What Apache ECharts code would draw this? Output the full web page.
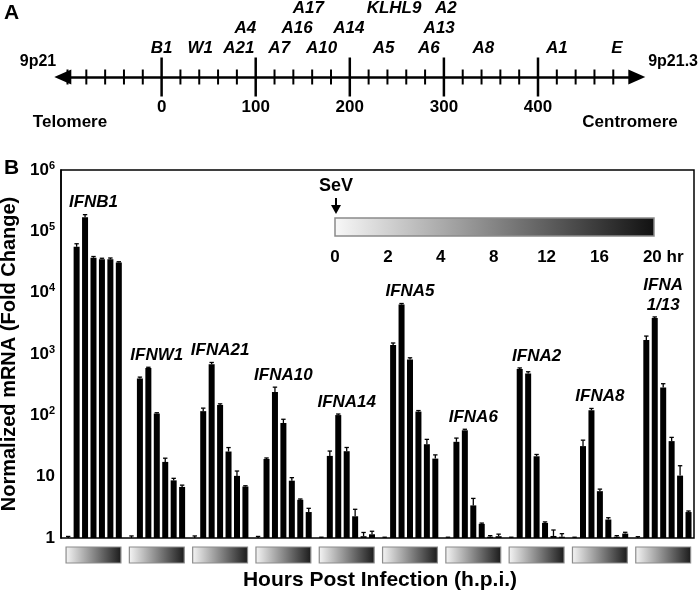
<!DOCTYPE html>
<html><head><meta charset="utf-8">
<script src="https://cdn.jsdelivr.net/npm/echarts@6/dist/echarts.min.js"></script>
<style>html,body{margin:0;padding:0;background:#fff}#c{width:700px;height:595px}</style>
</head><body><div id="c"></div>
<script>
const FONT = '"Liberation Sans", Arial, Helvetica, sans-serif';

// ---------- Panel A: gene map along 9p21 (kb) ----------
const mapGenes = ['B1','W1','A21','A7','A10','A5','A6','A8','A1','E','A4','A16','A14','A13','A17','KLHL9','A2'];
const mapPos   = [0, 41, 82, 125, 170, 236, 284, 342, 420, 484, 89, 144, 199, 295, 156, 247, 302];
const mapRow   = [0, 0, 0, 0, 0, 0, 0, 0, 0, 0, 1, 1, 1, 1, 2, 2, 2];
const mapMinorTicks = [-100,-80,-60,-40,-20,20,40,60,80,120,140,160,180,220,240,260,280,320,340,360,380,420,440,460,480];
const mapMajorTicks = [0, 100, 200, 300, 400];

// ---------- Panel B: fold change per time point ----------
const hours = ['0', '2', '4', '8', '12', '16', '20 hr'];
const genes = ['IFNB1','IFNW1','IFNA21','IFNA10','IFNA14','IFNA5','IFNA6','IFNA2','IFNA8','IFNA\n1/13'];
const IFNB1   = [1, 56000, 170000, 37000, 35000, 35000, 31000];
const IFNW1   = [1, 400, 590, 107, 17.4, 8.7, 6.8];
const IFNA21  = [1, 117, 680, 148, 25.7, 10.3, 6.9];
const IFNA10  = [1, 19.4, 240, 75, 8.6, 4.2, 2.65];
const IFNA14  = [1, 21.8, 101, 26, 2.26, 1.07, 1.15];
const IFNA5   = [1, 1400, 6400, 810, 115, 33.8, 19.7];
const IFNA6   = [1, 37, 57, 3.4, 1.7, 1.05, 1.07];
const IFNA2   = [1, 570, 480, 21.5, 1.76, 1.08, 1.05];
const IFNA8   = [1, 31.5, 121, 5.8, 2.0, 1.05, 1.18];
const IFNA1_13 = [1, 1690, 3870, 285, 38, 10.4, 2.65];
// relative upper error (fraction of value)
const errIFNB1   = [0.06, 0.12, 0.10, 0.05, 0.04, 0.05, 0.03];
const errIFNW1   = [0.08, 0.05, 0.03, 0.03, 0.15, 0.08, 0.07];
const errIFNA21  = [0.08, 0.12, 0.07, 0.04, 0.16, 0.20, 0.03];
const errIFNA10  = [0.06, 0.04, 0.20, 0.15, 0.12, 0.03, 0.15];
const errIFNA14  = [0.03, 0.20, 0.04, 0.15, 0.30, 0.15, 0.12];
const errIFNA5   = [0.03, 0.08, 0.04, 0.07, 0.04, 0.20, 0.15];
const errIFNA6   = [0.03, 0.15, 0.04, 0.30, 0.03, 0.04, 0.08];
const errIFNA2   = [0.03, 0.04, 0.07, 0.07, 0.04, 0.25, 0.12];
const errIFNA8   = [0.03, 0.25, 0.07, 0.08, 0.07, 0.04, 0.05];
const errIFNA1_13 = [0.05, 0.16, 0.04, 0.15, 0.15, 0.45, 0.04];

const values = [IFNB1, IFNW1, IFNA21, IFNA10, IFNA14, IFNA5, IFNA6, IFNA2, IFNA8, IFNA1_13];
const errors = [errIFNB1, errIFNW1, errIFNA21, errIFNA10, errIFNA14, errIFNA5, errIFNA6, errIFNA2, errIFNA8, errIFNA1_13];

// layout of groups on the hidden x scale (slots)
const GROUP = 7.5, OFF = 0.85;
const barData = [], errData = [], labelData = [], boxData = [];
values.forEach((arr, g) => {
  let top = 1;
  arr.forEach((v, i) => {
    const x = g * GROUP + OFF + i;
    const hi = v * (1 + errors[g][i]);
    barData.push([x, v]);
    errData.push([x, v, hi]);
    top = Math.max(top, hi);
  });
  labelData.push([g * GROUP + OFF + 3, top, g]);
  boxData.push([g]);
});

const chart = echarts.init(document.getElementById('c'), null, { renderer: 'canvas' });

const grad = (a, b) => new echarts.graphic.LinearGradient(0, 0, 1, 0, [{ offset: 0, color: a }, { offset: 1, color: b }]);

const legendX0 = 335, legendStep = 52.9;
const legendGraphics = hours.map((h, i) => ({
  type: 'text',
  x: i < hours.length - 1 ? legendX0 + i * legendStep : legendX0 + i * legendStep - 9.5,
  y: 257,
  style: { text: h, font: 'bold 17px ' + FONT, align: i < hours.length - 1 ? 'center' : 'left', verticalAlign: 'middle', fill: '#000' }
}));

chart.setOption({
  animation: false,
  backgroundColor: '#fff',
  grid: [
    { left: 62.8, right: 63.2, top: 0, height: 77, outerBoundsMode: 'none', containLabel: false },
    { left: 61, right: 6, top: 170, bottom: 57, outerBoundsMode: 'none', containLabel: false, show: true, borderColor: '#000', borderWidth: 1.5, backgroundColor: 'transparent' }
  ],
  xAxis: [
    {
      gridIndex: 0, type: 'value', min: -105, max: 505, position: 'bottom',
      axisLine: { show: true, onZero: false, lineStyle: { color: '#000', width: 2.5 }, symbol: ['triangle', 'triangle'], symbolSize: [15, 17] },
      axisTick: { show: false },
      splitLine: { show: false },
      axisLabel: { show: true, customValues: mapMajorTicks, margin: 22, fontSize: 17, fontWeight: 'bold', fontFamily: FONT, color: '#000' }
    },
    { gridIndex: 1, type: 'value', min: 0, max: 75, show: false, splitLine: { show: false } }
  ],
  yAxis: [
    { gridIndex: 0, type: 'value', min: -1.45, max: 2.4, show: false, splitLine: { show: false } },
    {
      gridIndex: 1, type: 'log', logBase: 10, min: 1, max: 1000000,
      axisLine: { show: true, lineStyle: { color: '#000', width: 1.5 } },
      axisTick: { show: false },
      splitLine: { show: false },
      minorTick: { show: false },
      name: 'Normalized mRNA (Fold Change)',
      nameLocation: 'middle', nameGap: 31,
      nameTextStyle: { fontSize: 20, fontWeight: 'bold', fontFamily: FONT, color: '#000' },
      axisLabel: {
        margin: 6, fontSize: 17, fontWeight: 'bold', fontFamily: FONT, color: '#000',
        formatter: v => {
          const e = Math.round(Math.log10(v));
          if (e === 0) return '1';
          if (e === 1) return '10';
          return '10{s|' + e + '}';
        },
        rich: { s: { fontSize: 11, fontWeight: 'bold', fontFamily: FONT, color: '#000', verticalAlign: 'top', padding: [0, 0, 9, 0] } }
      }
    }
  ],
  series: [
    {
      type: 'custom', xAxisIndex: 0, yAxisIndex: 0, clip: false, silent: true,
      data: mapMinorTicks.map(v => [v, 0]).concat(mapMajorTicks.map(v => [v, 1])),
      renderItem: (params, api) => {
        const p = api.coord([api.value(0), -1.45]);
        const major = api.value(1) === 1;
        const len = major ? 19.5 : 7.5;
        return { type: 'line', shape: { x1: p[0], y1: p[1] - len, x2: p[0], y2: p[1] + len }, style: { stroke: '#000', lineWidth: major ? 2.5 : 2 } };
      }
    },
    {
      type: 'custom', xAxisIndex: 0, yAxisIndex: 0, clip: false, silent: true,
      data: mapPos.map((p, i) => [p, mapRow[i], i]),
      renderItem: (params, api) => {
        const p = api.coord([api.value(0), api.value(1)]);
        return { type: 'text', x: p[0], y: p[1], style: { text: mapGenes[api.value(2)], font: 'italic bold 17px ' + FONT, fill: '#000', align: 'center', verticalAlign: 'middle' } };
      }
    },
    {
      type: 'bar', xAxisIndex: 1, yAxisIndex: 1, barWidth: 6, data: barData,
      itemStyle: { color: '#000' }, silent: true
    },
    {
      type: 'custom', xAxisIndex: 1, yAxisIndex: 1, clip: false, silent: true, data: errData,
      renderItem: (params, api) => {
        const x = api.value(0);
        const p0 = api.coord([x, api.value(1)]);
        const p1 = api.coord([x, api.value(2)]);
        return { type: 'group', children: [
          { type: 'line', shape: { x1: p0[0], y1: p0[1], x2: p1[0], y2: p1[1] }, style: { stroke: '#000', lineWidth: 1.3 } },
          { type: 'line', shape: { x1: p1[0] - 2.2, y1: p1[1], x2: p1[0] + 2.2, y2: p1[1] }, style: { stroke: '#000', lineWidth: 1.3 } }
        ] };
      }
    },
    {
      type: 'custom', xAxisIndex: 1, yAxisIndex: 1, clip: false, silent: true, data: boxData,
      renderItem: (params, api) => {
        const g = api.value(0);
        const a = api.coord([g * GROUP + 0.6, 1]);
        const b = api.coord([g * GROUP + 7.1, 1]);
        return { type: 'rect', shape: { x: a[0], y: a[1] + 9, width: b[0] - a[0], height: 16 },
          style: { fill: grad('#f6f6f6', '#1a1a1a'), stroke: '#8c8c8c', lineWidth: 1.2 } };
      }
    },
    {
      type: 'custom', xAxisIndex: 1, yAxisIndex: 1, clip: false, silent: true, data: labelData,
      renderItem: (params, api) => {
        const p = api.coord([api.value(0), api.value(1)]);
        return { type: 'text', x: p[0], y: p[1] - 2, style: { text: genes[api.value(2)], font: 'italic bold 17px ' + FONT, lineHeight: 20, fill: '#000', align: 'center', verticalAlign: 'bottom' } };
      }
    }
  ],
  graphic: [
    { type: 'text', x: 4, y: 13, style: { text: 'A', font: 'bold 21px ' + FONT, fill: '#000', verticalAlign: 'middle' } },
    { type: 'text', x: 38, y: 62, style: { text: '9p21', font: 'bold 16px ' + FONT, fill: '#000', align: 'center', verticalAlign: 'middle' } },
    { type: 'text', x: 698, y: 62, style: { text: '9p21.3', font: 'bold 16px ' + FONT, fill: '#000', align: 'right', verticalAlign: 'middle' } },
    { type: 'text', x: 70, y: 122, style: { text: 'Telomere', font: 'bold 17px ' + FONT, fill: '#000', align: 'center', verticalAlign: 'middle' } },
    { type: 'text', x: 630, y: 122, style: { text: 'Centromere', font: 'bold 17px ' + FONT, fill: '#000', align: 'center', verticalAlign: 'middle' } },
    { type: 'text', x: 4, y: 168, style: { text: 'B', font: 'bold 21px ' + FONT, fill: '#000', verticalAlign: 'middle' } },
    { type: 'text', x: 380, y: 580, style: { text: 'Hours Post Infection (h.p.i.)', font: 'bold 21px ' + FONT, fill: '#000', align: 'center', verticalAlign: 'middle' } },
    { type: 'text', x: 336, y: 186, style: { text: 'SeV', font: 'bold 18px ' + FONT, fill: '#000', align: 'center', verticalAlign: 'middle' } },
    { type: 'line', shape: { x1: 336, y1: 198, x2: 336, y2: 208 }, style: { stroke: '#000', lineWidth: 2 } },
    { type: 'polygon', shape: { points: [[331, 205], [341, 205], [336, 214]] }, style: { fill: '#000' } },
    { type: 'rect', shape: { x: 335, y: 218, width: 319, height: 18 }, style: { fill: grad('#f8f8f8', '#111111'), stroke: '#8a8a8a', lineWidth: 1.5 } }
  ].concat(legendGraphics)
});
</script>
</body></html>
